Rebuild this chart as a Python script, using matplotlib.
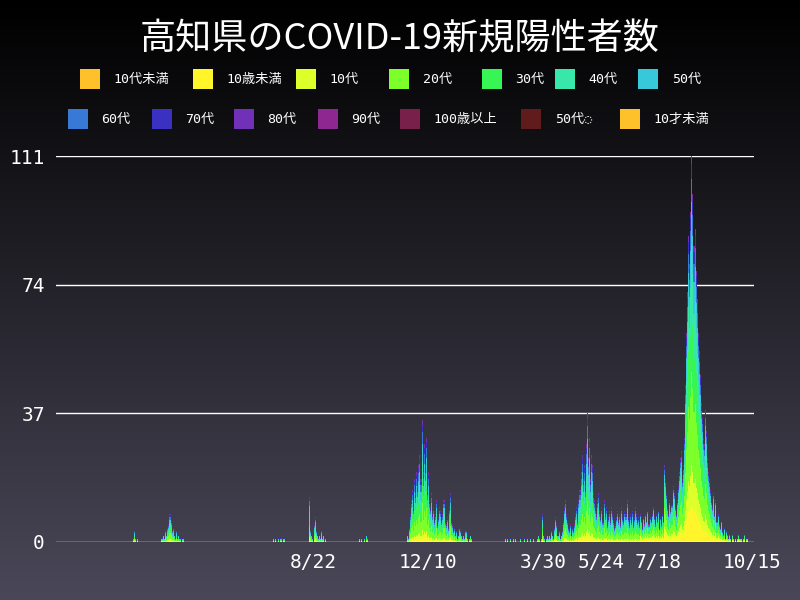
import numpy as np
import pandas as pd
import matplotlib
matplotlib.use("Agg")
import matplotlib.pyplot as plt
from matplotlib.colors import LinearSegmentedColormap

plt.rcParams['font.family'] = ['Noto Sans CJK JP', 'DejaVu Sans']
MONO = ['DejaVu Sans Mono', 'Noto Sans CJK JP']

series_names = ["10代未満", "10歳未満", "10代", "20代", "30代", "40代", "50代",
                "60代", "70代", "80代", "90代", "100歳以上", "50代\u25cc", "10才未満"]
series_colors = ["#FFC12A", "#FFF52A", "#DDFF2A", "#7CFF2A", "#37F653", "#37E8AA", "#37C9DA",
                 "#3878D6", "#3A30C2", "#7030B8", "#8E2890", "#78204A", "#601C1C", "#FFC12A"]

# daily totals (start date, values)
segments = [
    ("2020-03-03", [1, 3, 1, 0, 1]),
    ("2020-03-30", [1, 1, 2, 1, 3, 2, 4, 5, 8, 6, 3, 4, 2, 1, 3, 1, 2, 1, 1, 0, 1, 1]),
    ("2020-07-15", [1, 0, 1, 0, 0, 1, 0, 1, 1, 0, 1]),
    ("2020-08-18", [13, 3, 2, 1, 0, 5, 7, 3, 2, 1, 2, 1, 3, 1, 2, 0, 1]),
    ("2020-10-05", [1, 0, 1, 0, 0, 1, 0, 2, 1]),
    ("2020-11-20", [2, 1, 4, 8, 12, 15, 10, 18, 14, 20, 16, 22, 25, 18, 35, 20, 28, 22, 30, 15,
                    20, 12, 10, 14, 8, 10, 6, 8, 12, 5, 7, 10, 9, 6, 8, 12, 6, 5, 7, 4,
                    10, 14, 6, 5, 3, 4, 2, 3, 1, 2, 4, 3, 2, 1, 2, 1, 3, 1, 0, 1, 2, 1]),
    ("2021-02-22", [1, 0, 1, 0, 0, 1, 0, 1, 0, 1, 0, 0, 0, 0, 1, 0, 0, 0, 1, 0, 0, 1, 0, 0,
                    1, 0, 0, 1, 0, 0, 1, 2, 1, 0, 1, 8, 2, 1, 0, 1, 2]),
    ("2021-04-04", [1, 2, 1, 3, 2, 1, 4, 7, 5, 2, 3, 1, 2, 3, 6, 10, 12, 8, 6, 4, 3, 5, 2, 4,
                    3, 5, 8, 10, 6, 12, 15, 20, 25, 18, 22, 16, 28, 37, 24, 30, 18, 25, 22, 14,
                    12, 10, 8, 12, 14, 9, 7, 10, 6, 12, 8, 10, 5, 7, 9, 6, 10, 8, 6, 4, 5, 7,
                    9, 6, 8, 5, 10, 7, 6, 9, 8, 12, 7, 5, 8, 6, 9, 5, 7, 10, 8, 6, 7, 5, 8,
                    6, 4, 7, 5, 8, 6, 9, 5, 7, 6, 8, 10, 7, 5, 8, 6, 9, 4, 7, 5, 8, 6,
                    22, 18, 14, 10, 8, 12, 9, 11, 16, 14,
                    10, 8, 12, 16, 20, 24, 26, 18, 22, 30, 45, 60, 72, 88, 80, 95, 111, 100, 85,
                    90, 78, 70, 60, 55, 48, 40, 36, 30, 28, 38, 32, 24, 20, 18, 15, 12, 10, 14,
                    8, 12, 6, 8, 5, 4, 6, 3, 2, 4, 1, 3, 2, 1, 2, 1, 0, 2, 1, 0, 1, 0, 1, 2, 1,
                    1, 0, 1, 2, 0, 1, 1]),
]

# age composition (share per series) before / after July 2021
share_early = [0, .04, .06, .22, .18, .16, .14, .10, .06, .03, .01, 0, 0, 0]
share_late = [0, .10, .10, .24, .18, .15, .11, .06, .04, .015, .005, 0, 0, 0]

start = pd.Timestamp("2019-12-20")
end = pd.Timestamp("2021-10-17")
dates = pd.date_range(start, end)
totals = pd.Series(0.0, index=dates)
for d0, vals in segments:
    idx = pd.date_range(d0, periods=len(vals))
    totals.loc[idx] = vals

fig = plt.figure(figsize=(8, 6), dpi=100)
bg = fig.add_axes([0, 0, 1, 1])
grad = np.linspace(0, 1, 256).reshape(-1, 1)
cm = LinearSegmentedColormap.from_list("bg", ["#000000", "#4a4858"])
bg.imshow(grad, aspect="auto", cmap=cm, extent=[0, 1, 0, 1], origin="upper")
bg.axis("off")

ax = fig.add_axes([0.07, 0.097, 0.872, 0.643])
ax.set_facecolor("none")
bottom = np.zeros(len(dates))
late = dates >= pd.Timestamp("2021-07-01")
for i, (n, c) in enumerate(zip(series_names, series_colors)):
    vals = np.where(late, share_late[i], share_early[i]) * totals.values
    ax.bar(dates, vals, bottom=bottom, width=1.0, color=c, linewidth=0)
    bottom += vals

ax.set_ylim(0, 111)
ax.set_xlim(start, end)
ax.set_yticks([0, 37, 74, 111])
for y in [37, 74, 111]:
    ax.axhline(y, color="white", lw=1, zorder=0)
ax.axhline(0, color="white", lw=1)
xt = ["2020-08-22", "2020-12-10", "2021-03-30", "2021-05-24", "2021-07-18", "2021-10-15"]
ax.set_xticks(pd.to_datetime(xt))
ax.set_xticklabels(["8/22", "12/10", "3/30", "5/24", "7/18", "10/15"])
ax.tick_params(colors="white", labelsize=14, length=0, pad=8)
for lab in ax.get_xticklabels() + ax.get_yticklabels():
    lab.set_family(MONO)
for s in ax.spines.values():
    s.set_visible(False)

fig.text(0.5, 0.935, "高知県のCOVID-19新規陽性者数", color="white", fontsize=26, ha="center", va="center")

# legend
pos1 = [80, 193, 296, 389, 482, 555, 638]
pos2 = [68, 152, 234, 318, 400, 521, 620]
for row, ypx, xs in [(range(7), 79, pos1), (range(7, 14), 119, pos2)]:
    y = 1 - ypx / 600
    for i, xp in zip(row, xs):
        x = xp / 800
        fig.patches.append(plt.Rectangle((x, y - 0.017), 0.025, 0.034, transform=fig.transFigure,
                                         facecolor=series_colors[i], figure=fig))
        fig.text(x + 0.042, y, series_names[i], color="white", fontsize=9.5, va="center",
                 family=MONO)

fig.savefig("out.png", dpi=100)
